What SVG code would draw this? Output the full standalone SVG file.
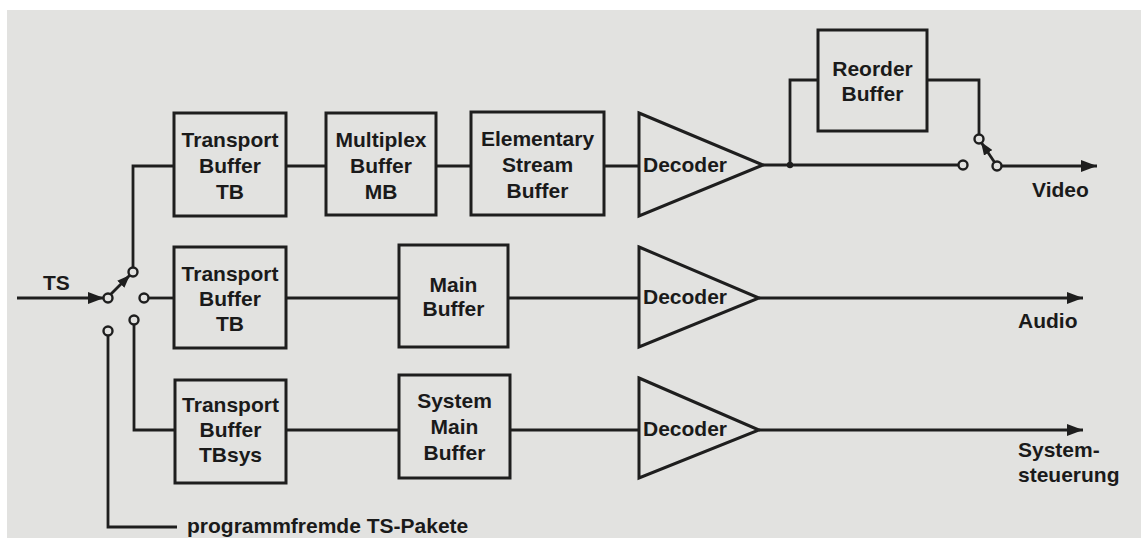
<svg xmlns="http://www.w3.org/2000/svg" width="1141" height="538" viewBox="0 0 1141 538">
<defs>
<style>
.ln{fill:none;stroke:#1e1e1e;stroke-width:2.8}
.bx{fill:none;stroke:#1e1e1e;stroke-width:3}
.ci{fill:#e2e2e0;stroke:#1e1e1e;stroke-width:2.4}
.t{font-family:"Liberation Sans",Arial,sans-serif;font-weight:bold;font-size:21px;fill:#1a1a1a}
.c{text-anchor:middle}
</style>
<marker id="ah" viewBox="0 0 16 12" refX="16" refY="6" markerWidth="16" markerHeight="12" markerUnits="userSpaceOnUse" orient="auto">
<path d="M0,0 L16,6 L0,12 Z" fill="#1e1e1e"/>
</marker>
<marker id="sh" viewBox="0 0 13 10" refX="13" refY="5" markerWidth="13" markerHeight="10" markerUnits="userSpaceOnUse" orient="auto">
<path d="M0,0 L13,5 L0,10 Z" fill="#1e1e1e"/>
</marker>
</defs>
<rect x="0" y="0" width="1141" height="538" fill="#ffffff"/>
<rect x="7" y="10" width="1134" height="528" fill="#e2e2e0"/>

<g id="connectors">
<line class="ln" x1="17" y1="298" x2="104" y2="298" marker-end="url(#ah)"/>
<line class="ln" x1="110" y1="295" x2="130" y2="275" marker-end="url(#sh)"/>
<path class="ln" d="M133,268 V166 H174"/>
<line class="ln" x1="148" y1="298" x2="174" y2="298"/>
<path class="ln" d="M134,324 V430 H175"/>
<path class="ln" d="M108,335 V527 H177"/>
<line class="ln" x1="286" y1="166" x2="326" y2="166"/>
<line class="ln" x1="436" y1="166" x2="471" y2="166"/>
<line class="ln" x1="604" y1="166" x2="639" y2="166"/>
<line class="ln" x1="763" y1="165" x2="959" y2="165"/>
<path class="ln" d="M790,165 V80 H818"/>
<path class="ln" d="M927,80 H979 V135"/>
<line class="ln" x1="995" y1="163" x2="981" y2="142" marker-end="url(#sh)"/>
<line class="ln" x1="1001" y1="166" x2="1097" y2="166" marker-end="url(#ah)"/>
<line class="ln" x1="286" y1="298" x2="399" y2="298"/>
<line class="ln" x1="508" y1="298" x2="639" y2="298"/>
<line class="ln" x1="759" y1="298" x2="1083" y2="298" marker-end="url(#ah)"/>
<line class="ln" x1="286" y1="430" x2="399" y2="430"/>
<line class="ln" x1="510" y1="430" x2="639" y2="430"/>
<line class="ln" x1="759" y1="430" x2="1083" y2="430" marker-end="url(#ah)"/>
<circle cx="790" cy="165" r="3.2" fill="#1e1e1e"/>
<circle class="ci" cx="108" cy="298" r="4.5"/>
<circle class="ci" cx="133" cy="272" r="4.5"/>
<circle class="ci" cx="144" cy="298" r="4.5"/>
<circle class="ci" cx="134" cy="320" r="4.5"/>
<circle class="ci" cx="108" cy="331" r="4.5"/>
<circle class="ci" cx="963" cy="165" r="4.5"/>
<circle class="ci" cx="979" cy="139" r="4.5"/>
<circle class="ci" cx="997" cy="166" r="4.5"/>
</g>

<g id="tb-video">
<rect class="bx" x="174" y="113" width="112" height="103"/>
<text class="t c" x="230" y="147">Transport</text>
<text class="t c" x="230" y="173">Buffer</text>
<text class="t c" x="230" y="199">TB</text>
</g>
<g id="mb-video">
<rect class="bx" x="326" y="113" width="110" height="102"/>
<text class="t c" x="381" y="147">Multiplex</text>
<text class="t c" x="381" y="173">Buffer</text>
<text class="t c" x="381" y="199">MB</text>
</g>
<g id="esb-video">
<rect class="bx" x="471" y="112" width="133" height="103"/>
<text class="t c" x="537.5" y="146">Elementary</text>
<text class="t c" x="537.5" y="172">Stream</text>
<text class="t c" x="537.5" y="198">Buffer</text>
</g>
<g id="dec-video">
<path class="bx" d="M639,113 L763,165 L639,216 Z"/>
<text class="t" x="643" y="172">Decoder</text>
</g>
<g id="reorder">
<rect class="bx" x="818" y="30" width="109" height="101"/>
<text class="t c" x="872.5" y="76">Reorder</text>
<text class="t c" x="872.5" y="101">Buffer</text>
</g>

<g id="tb-audio">
<rect class="bx" x="174" y="247" width="112" height="101"/>
<text class="t c" x="230" y="281">Transport</text>
<text class="t c" x="230" y="306">Buffer</text>
<text class="t c" x="230" y="331">TB</text>
</g>
<g id="main-buffer">
<rect class="bx" x="399" y="245" width="109" height="102"/>
<text class="t c" x="453.5" y="292">Main</text>
<text class="t c" x="453.5" y="316">Buffer</text>
</g>
<g id="dec-audio">
<path class="bx" d="M639,247 L759,298 L639,347 Z"/>
<text class="t" x="643" y="304">Decoder</text>
</g>

<g id="tb-sys">
<rect class="bx" x="175" y="380" width="111" height="103"/>
<text class="t c" x="230.5" y="412">Transport</text>
<text class="t c" x="230.5" y="437">Buffer</text>
<text class="t c" x="230.5" y="462">TBsys</text>
</g>
<g id="sys-main-buffer">
<rect class="bx" x="399" y="375" width="111" height="103"/>
<text class="t c" x="454.5" y="408">System</text>
<text class="t c" x="454.5" y="434">Main</text>
<text class="t c" x="454.5" y="460">Buffer</text>
</g>
<g id="dec-sys">
<path class="bx" d="M639,378 L759,430 L639,478 Z"/>
<text class="t" x="643" y="436">Decoder</text>
</g>

<g id="labels">
<text class="t" x="43" y="290">TS</text>
<text class="t" x="1032" y="197">Video</text>
<text class="t" x="1018" y="328">Audio</text>
<text class="t" x="1018" y="457">System-</text>
<text class="t" x="1018" y="482">steuerung</text>
<text class="t" x="187" y="533">programmfremde TS-Pakete</text>
</g>
</svg>
